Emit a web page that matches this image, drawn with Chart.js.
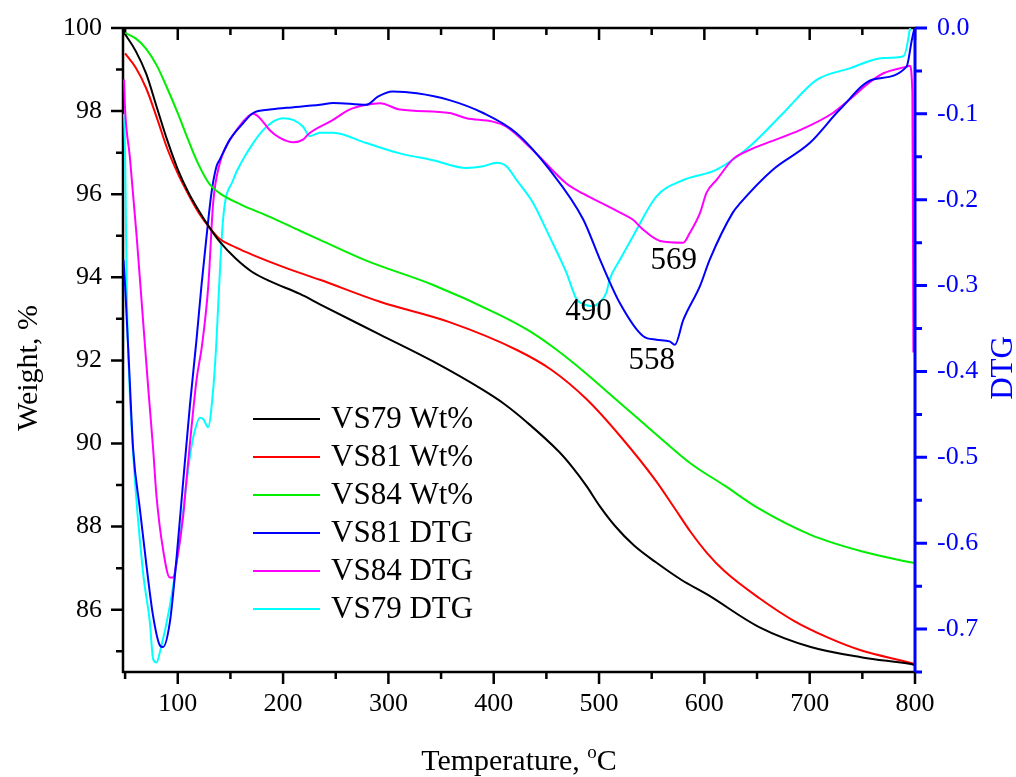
<!DOCTYPE html>
<html>
<head>
<meta charset="utf-8">
<script src="https://cdn.jsdelivr.net/npm/chart.js@4"></script>
<style>
  html, body { margin: 0; padding: 0; background: #fff; }
  canvas { display: block; }
</style>
</head>
<body>
<canvas id="tga" width="1016" height="777"></canvas>
<script>
// tick labels
const xTicks = [100, 200, 300, 400, 500, 600, 700, 800];
const weightTicks = [86, 88, 90, 92, 94, 96, 98, 100];
const dtgTicks = [0, -0.1, -0.2, -0.3, -0.4, -0.5, -0.6, -0.7];

// VS79 Wt%
const tempVS79wt = [50, 60, 70, 80, 90, 100, 110, 120, 130, 140, 155, 170, 188, 216, 235, 292, 342, 389, 410, 432, 462, 475, 488, 501, 515, 533, 554, 578, 603, 652, 701, 750, 796, 800];
const wtVS79 = [99.85, 99.45, 98.9, 98.1, 97.3, 96.6, 96.05, 95.6, 95.2, 94.85, 94.45, 94.14, 93.9, 93.6, 93.35, 92.62, 91.98, 91.3, 90.95, 90.5, 89.8, 89.42, 88.98, 88.48, 88.02, 87.55, 87.14, 86.72, 86.36, 85.58, 85.1, 84.85, 84.69, 84.67];

// VS81 Wt%
const tempVS81wt = [50, 60, 70, 80, 90, 100, 110, 120, 130, 140, 155, 171, 200, 235, 292, 358, 422, 455, 488, 521, 554, 571, 587, 603, 619, 652, 685, 718, 750, 796, 800];
const wtVS81 = [99.39, 99.05, 98.55, 97.85, 97.1, 96.5, 96.0, 95.55, 95.2, 94.92, 94.72, 94.54, 94.25, 93.94, 93.41, 92.92, 92.25, 91.77, 91.07, 90.15, 89.1, 88.47, 87.87, 87.35, 86.93, 86.28, 85.73, 85.32, 85.01, 84.72, 84.69];

// VS84 Wt%
const tempVS84wt = [50, 60, 70, 80, 90, 100, 110, 120, 130, 140, 160, 188, 216, 235, 279, 342, 406, 433, 460, 488, 512, 537, 562, 587, 619, 652, 701, 750, 796, 800];
const wtVS84 = [99.88, 99.75, 99.5, 99.1, 98.55, 97.95, 97.3, 96.7, 96.25, 96.02, 95.75, 95.45, 95.12, 94.9, 94.4, 93.82, 93.09, 92.72, 92.25, 91.68, 91.15, 90.6, 90.05, 89.52, 88.99, 88.43, 87.8, 87.4, 87.14, 87.12];

// VS81 DTG
const tempVS81dtg = [48.5, 50, 54, 57.6, 64, 70.3, 76.6, 83, 86, 92.5, 99, 105, 111.5, 117.8, 122.5, 127.3, 132, 136.8, 140, 149.4, 162, 171.6, 187.4, 203, 235, 247.5, 279, 290, 304, 327, 358, 390, 421.7, 453, 485, 501, 519.6, 542, 554.6, 567, 572, 580, 596, 605, 627, 634, 665, 700, 728.6, 760, 792, 797, 799, 800];
const dtgVS81 = [-0.27, -0.30, -0.40, -0.49, -0.56, -0.626, -0.685, -0.719, -0.721, -0.692, -0.615, -0.53, -0.44, -0.363, -0.30, -0.243, -0.192, -0.161, -0.153, -0.130, -0.111, -0.099, -0.095, -0.093, -0.0895, -0.0872, -0.0895, -0.080, -0.074, -0.076, -0.084, -0.099, -0.1225, -0.165, -0.223, -0.27, -0.32, -0.359, -0.363, -0.365, -0.369, -0.34, -0.30, -0.27, -0.215, -0.204, -0.165, -0.134, -0.095, -0.060, -0.045, -0.014, -0.003, 0];

// VS84 DTG
const tempVS84dtg = [49, 50, 54.5, 60.8, 67, 72, 76.6, 79.8, 86, 92.5, 95.5, 98.8, 105, 108, 117.8, 123, 129, 133.6, 140, 146, 155.8, 165, 171.6, 178, 187.4, 197, 209.6, 219, 225, 247.5, 263, 279, 292, 311, 358, 374, 399, 412, 437, 469, 485, 501, 520, 532, 542, 558, 580, 586, 596, 602, 611.6, 627, 643, 659, 690.7, 722, 741, 754, 770, 792, 795, 797.5, 798.5];
const dtgVS84 = [-0.06, -0.095, -0.15, -0.24, -0.34, -0.42, -0.49, -0.545, -0.607, -0.640, -0.64, -0.623, -0.57, -0.53, -0.41, -0.37, -0.30, -0.204, -0.157, -0.138, -0.119, -0.105, -0.100, -0.105, -0.119, -0.128, -0.133, -0.130, -0.1225, -0.107, -0.095, -0.0895, -0.0876, -0.095, -0.099, -0.105, -0.109, -0.115, -0.142, -0.181, -0.193, -0.203, -0.215, -0.223, -0.235, -0.248, -0.250, -0.239, -0.215, -0.192, -0.177, -0.153, -0.142, -0.134, -0.119, -0.099, -0.080, -0.066, -0.0527, -0.045, -0.044, -0.075, -0.378];

// VS79 DTG
const tempVS79dtg = [49, 50, 51.5, 53, 57.6, 67, 73.5, 76.6, 79.8, 83, 92.5, 102, 111.5, 116, 121, 124.5, 128.8, 133.6, 136.8, 138.5, 143, 152.6, 162, 171.6, 181, 190.5, 200, 209.6, 219, 225.4, 235, 247.5, 279, 311, 342.5, 374, 390, 402.7, 412, 421.7, 437.5, 453, 469, 478.7, 486, 494, 500, 507, 510, 519.8, 532, 554.6, 580, 611.6, 643, 675, 706.6, 738, 770, 789, 795, 797];
const dtgVS79 = [-0.10, -0.15, -0.30, -0.38, -0.495, -0.634, -0.692, -0.735, -0.739, -0.727, -0.673, -0.595, -0.499, -0.47, -0.454, -0.456, -0.465, -0.421, -0.363, -0.32, -0.223, -0.177, -0.153, -0.134, -0.119, -0.109, -0.105, -0.107, -0.115, -0.126, -0.122, -0.122, -0.134, -0.146, -0.154, -0.163, -0.161, -0.157, -0.161, -0.177, -0.204, -0.243, -0.285, -0.316, -0.322, -0.324, -0.32, -0.308, -0.293, -0.27, -0.243, -0.196, -0.177, -0.165, -0.138, -0.099, -0.0605, -0.047, -0.035, -0.033, -0.002, 0.02];

// peak labels: [text, temperature, dtg]
const peakLabels = [['490', 490, -0.330], ['558', 550, -0.3875], ['569', 571, -0.271]];

const serif = "'Liberation Serif', 'Times New Roman', serif";
Chart.defaults.font.family = serif;

function pts(ts, vs) {
  return ts.map((t, i) => ({ x: t, y: vs[i] }));
}

function series(label, ts, vs, color, axis) {
  return {
    label: label,
    data: pts(ts, vs),
    yAxisID: axis,
    borderColor: color,
    backgroundColor: color,
    borderWidth: 2,
    pointRadius: 0,
    cubicInterpolationMode: 'monotone',
    fill: false,
    clip: 0
  };
}

// fixed axis boxes, so the plot frame lands where the original has it
function fixWidth(w) {
  return s => { s.width = w; s.paddingTop = 0; s.paddingBottom = 0; };
}

// 外框、刻度、圖例、標註
const frame = {
  id: 'frame',
  beforeDatasetsDraw(chart) {
    const { ctx, chartArea: a } = chart;
    const x = chart.scales.x, yl = chart.scales.y;
    ctx.save();
    ctx.strokeStyle = '#000';
    ctx.lineWidth = 2.5;
    ctx.beginPath();
    ctx.moveTo(a.right, a.top);
    ctx.lineTo(a.left, a.top);
    ctx.lineTo(a.left, a.bottom);
    ctx.lineTo(a.right, a.bottom);
    for (let t = 50; t <= 800; t += 50) {
      const px = x.getPixelForValue(t);
      const len = t % 100 === 0 ? 12 : 7;
      ctx.moveTo(px, a.bottom);
      ctx.lineTo(px, a.bottom + len);
      ctx.moveTo(px, a.top);
      ctx.lineTo(px, a.top + len);
    }
    for (let v = 85; v <= 100; v++) {
      const py = yl.getPixelForValue(v);
      const len = v % 2 === 0 ? 12 : 7;
      ctx.moveTo(a.left, py);
      ctx.lineTo(a.left - len, py);
    }
    ctx.stroke();
    ctx.restore();
  },
  afterDatasetsDraw(chart) {
    const { ctx, chartArea: a } = chart;
    const x = chart.scales.x, yr = chart.scales.y2;
    ctx.save();
    // right DTG axis
    ctx.strokeStyle = '#0000ff';
    ctx.lineWidth = 3;
    ctx.beginPath();
    ctx.moveTo(a.right, a.top);
    ctx.lineTo(a.right, a.bottom);
    for (let k = 0; k <= 15; k++) {
      const py = yr.getPixelForValue(-k * 0.05);
      const len = k % 2 === 0 ? 12 : 7;
      ctx.moveTo(a.right, py);
      ctx.lineTo(a.right + len, py);
    }
    ctx.stroke();

    // legend
    ctx.font = '31px ' + serif;
    ctx.textAlign = 'left';
    ctx.textBaseline = 'middle';
    chart.data.datasets.forEach((ds, i) => {
      const yy = 419 + i * 38;
      ctx.strokeStyle = ds.borderColor;
      ctx.lineWidth = 2;
      ctx.beginPath();
      ctx.moveTo(253, yy);
      ctx.lineTo(320, yy);
      ctx.stroke();
      ctx.fillStyle = '#000';
      ctx.fillText(ds.label, 331, yy + 1);
    });

    // peak labels
    ctx.font = '31px ' + serif;
    ctx.textAlign = 'center';
    peakLabels.forEach(p => {
      ctx.fillText(p[0], x.getPixelForValue(p[1]), yr.getPixelForValue(p[2]));
    });

    // axis titles
    ctx.textBaseline = 'alphabetic';
    const t1 = 'Temperature, ', t3 = 'C';
    ctx.font = '30px ' + serif;
    const w1 = ctx.measureText(t1).width, w3 = ctx.measureText(t3).width;
    ctx.font = '19px ' + serif;
    const w2 = ctx.measureText('o').width;
    const sx = (a.left + a.right) / 2 - (w1 + w2 + w3) / 2;
    ctx.textAlign = 'left';
    ctx.font = '30px ' + serif;
    ctx.fillText(t1, sx, 770);
    ctx.font = '19px ' + serif;
    ctx.fillText('o', sx + w1, 758);
    ctx.font = '30px ' + serif;
    ctx.fillText(t3, sx + w1 + w2, 770);

    ctx.textAlign = 'center';
    ctx.save();
    ctx.translate(37, 368);
    ctx.rotate(-Math.PI / 2);
    ctx.fillText('Weight, %', 0, 0);
    ctx.restore();

    ctx.save();
    ctx.fillStyle = '#0000ff';
    ctx.font = '31px ' + serif;
    ctx.translate(1012, 368);
    ctx.rotate(-Math.PI / 2);
    ctx.fillText('DTG', 0, 0);
    ctx.restore();

    ctx.restore();
  }
};

new Chart(document.getElementById('tga'), {
  type: 'line',
  data: {
    datasets: [
      series('VS79 Wt%', tempVS79wt, wtVS79, '#000000', 'y'),
      series('VS81 Wt%', tempVS81wt, wtVS81, '#ff0000', 'y'),
      series('VS84 Wt%', tempVS84wt, wtVS84, '#00ee00', 'y'),
      series('VS81 DTG', tempVS81dtg, dtgVS81, '#0000ff', 'y2'),
      series('VS84 DTG', tempVS84dtg, dtgVS84, '#ff00ff', 'y2'),
      series('VS79 DTG', tempVS79dtg, dtgVS79, '#00ffff', 'y2')
    ]
  },
  options: {
    responsive: false,
    animation: false,
    layout: { padding: { top: 28, left: 0, right: 0, bottom: 0 } },
    plugins: { legend: { display: false }, tooltip: { enabled: false } },
    scales: {
      x: {
        type: 'linear',
        min: 48,
        max: 800,
        afterBuildTicks: s => { s.ticks = xTicks.map(v => ({ value: v })); },
        afterFit: s => { s.height = 105; s.paddingLeft = 0; s.paddingRight = 0; },
        grid: { display: false, drawTicks: false },
        border: { display: false },
        ticks: { color: '#000', font: { size: 26 }, padding: 17, maxRotation: 0 }
      },
      y: {
        position: 'left',
        min: 84.5,
        max: 100,
        afterBuildTicks: s => { s.ticks = weightTicks.map(v => ({ value: v })); },
        afterFit: fixWidth(123),
        grid: { display: false, drawTicks: false },
        border: { display: false },
        ticks: { color: '#000', font: { size: 26 }, padding: 21 }
      },
      y2: {
        position: 'right',
        min: -0.75,
        max: 0,
        afterBuildTicks: s => { s.ticks = dtgTicks.map(v => ({ value: v })); },
        afterFit: fixWidth(101),
        grid: { display: false, drawTicks: false },
        border: { display: false },
        ticks: { color: '#0000ff', font: { size: 26 }, padding: 22, callback: v => v.toFixed(1) }
      }
    }
  },
  plugins: [frame]
});
</script>
</body>
</html>
